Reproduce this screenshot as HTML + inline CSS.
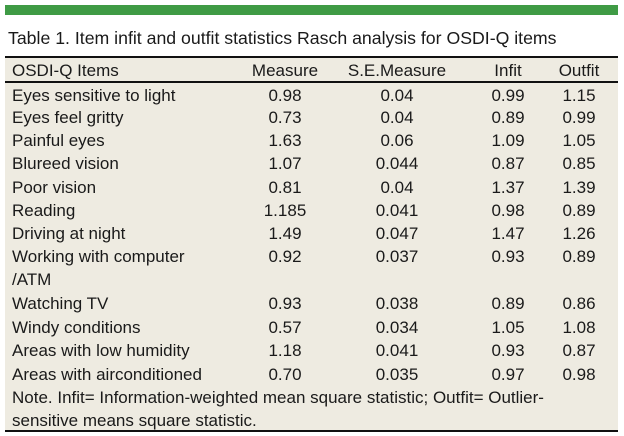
<!DOCTYPE html>
<html><head><style>
body{margin:0;width:624px;height:436px;background:#fff;position:relative;font-family:"Liberation Sans",sans-serif;color:#1a1a1a;overflow:hidden}
.g{position:absolute;left:5px;top:5px;width:613px;height:10px;background:#3f9b45}
.t{position:absolute;left:8px;top:28px;font-size:17.7px;white-space:nowrap}
.box{position:absolute;left:5px;top:56px;width:613px;height:376px;background:#eeebe1;border-top:2px solid #111;border-bottom:2px solid #111;box-sizing:border-box}
.hl{position:absolute;left:5px;top:81px;width:613px;height:2px;background:#111}
.r{position:absolute;font-size:17px;white-space:nowrap;line-height:20px}
.c{transform:translateX(-50%)}
</style></head><body>
<div class="g"></div>
<div class="t">Table 1. Item infit and outfit statistics Rasch analysis for OSDI-Q items</div>
<div class="box"></div>
<div class="hl"></div>
<div class="r" style="left:12px;top:61px">OSDI-Q Items</div>
<div class="r c" style="left:285px;top:61px">Measure</div>
<div class="r c" style="left:397px;top:61px">S.E.Measure</div>
<div class="r c" style="left:508px;top:61px">Infit</div>
<div class="r c" style="left:579px;top:61px">Outfit</div>
<div id="rows"></div>
<script>
var d=[["Eyes sensitive to light","0.98","0.04","0.99","1.15",86],
["Eyes feel gritty","0.73","0.04","0.89","0.99",108],
["Painful eyes","1.63","0.06","1.09","1.05",131],
["Blureed vision","1.07","0.044","0.87","0.85",154],
["Poor vision","0.81","0.04","1.37","1.39",178],
["Reading","1.185","0.041","0.98","0.89",201],
["Driving at night","1.49","0.047","1.47","1.26",224],
["Working with computer","0.92","0.037","0.93","0.89",247],
["Watching TV","0.93","0.038","0.89","0.86",294],
["Windy conditions","0.57","0.034","1.05","1.08",318],
["Areas with low humidity","1.18","0.041","0.93","0.87",341],
["Areas with airconditioned","0.70","0.035","0.97","0.98",365]];
var h="",x=[285,397,508,579];
d.forEach(function(r){h+='<div class="r" style="left:12px;top:'+r[5]+'px">'+r[0]+'</div>';
for(var i=0;i<4;i++)h+='<div class="r c" style="left:'+x[i]+'px;top:'+r[5]+'px">'+r[i+1]+'</div>';});
h+='<div class="r" style="left:12px;top:270px">/ATM</div>';
h+='<div class="r" style="left:12px;top:388px">Note. Infit= Information-weighted mean square statistic; Outfit= Outlier-</div>';
h+='<div class="r" style="left:12px;top:411px">sensitive means square statistic.</div>';
document.getElementById("rows").innerHTML=h;
</script>
</body></html>
